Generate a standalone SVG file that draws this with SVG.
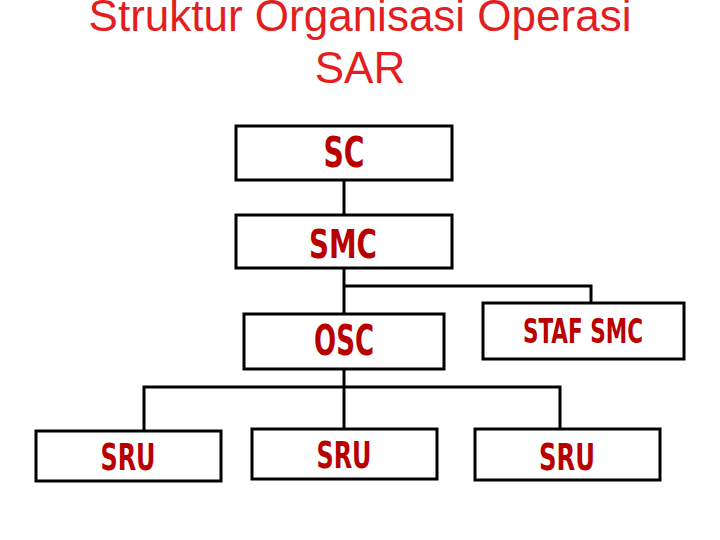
<svg xmlns="http://www.w3.org/2000/svg" width="720" height="540" viewBox="0 0 720 540">
<style>
.box{fill:#fff;stroke:#000;stroke-width:3}
.lbl{font-family:"Liberation Sans Narrow","DejaVu Sans Condensed","Liberation Sans",sans-serif;font-weight:bold;fill:#B80000;text-anchor:middle}
.title{font-family:"Liberation Sans",Arial,sans-serif;fill:#E41E20;font-size:44px;text-anchor:middle}
#connectors line,#connectors polyline{stroke:#000;stroke-width:3;fill:none}
</style>
<rect width="720" height="540" fill="#fff"/>
<text class="title" x="360" y="31">Struktur Organisasi Operasi</text>
<text class="title" x="360" y="83">SAR</text>
<g id="connectors">
<line x1="344" y1="180" x2="344" y2="215"/>
<line x1="344" y1="268" x2="344" y2="314"/>
<polyline points="344,286 591,286 591,303"/>
<line x1="344" y1="369" x2="344" y2="429"/>
<polyline points="144,431 144,387 560,387 560,429"/>
</g>
<g id="sc"><rect class="box" x="236" y="126" width="216" height="54"/><text class="lbl" x="344" y="167" font-size="42" textLength="41" lengthAdjust="spacingAndGlyphs">SC</text></g>
<g id="smc"><rect class="box" x="236" y="215" width="216" height="53"/><text class="lbl" x="343" y="258" font-size="39" textLength="68" lengthAdjust="spacingAndGlyphs">SMC</text></g>
<g id="osc"><rect class="box" x="244" y="314" width="200" height="55"/><text class="lbl" x="344" y="355" font-size="42" textLength="60" lengthAdjust="spacingAndGlyphs">OSC</text></g>
<g id="staf-smc"><rect class="box" x="483" y="303" width="201" height="56"/><text class="lbl" x="583" y="343" font-size="34" textLength="120" lengthAdjust="spacingAndGlyphs">STAF SMC</text></g>
<g id="sru-1"><rect class="box" x="36" y="431" width="185" height="50"/><text class="lbl" x="128" y="470" font-size="38" textLength="55" lengthAdjust="spacingAndGlyphs">SRU</text></g>
<g id="sru-2"><rect class="box" x="252" y="429" width="185" height="50"/><text class="lbl" x="344" y="468" font-size="38" textLength="55" lengthAdjust="spacingAndGlyphs">SRU</text></g>
<g id="sru-3"><rect class="box" x="475" y="429" width="185" height="51"/><text class="lbl" x="567" y="470" font-size="38" textLength="56" lengthAdjust="spacingAndGlyphs">SRU</text></g>
</svg>
